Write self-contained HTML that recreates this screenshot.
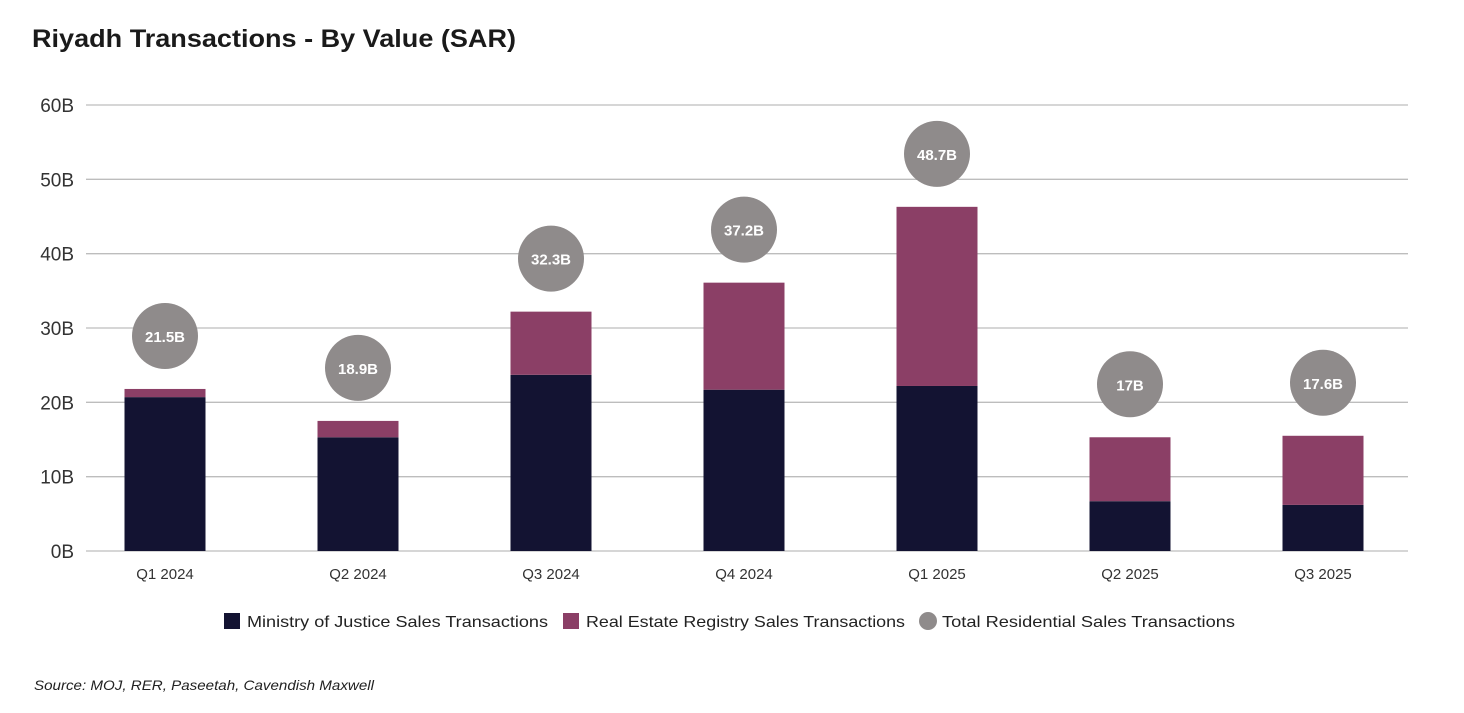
<!DOCTYPE html>
<html><head><meta charset="utf-8"><style>
body{margin:0;background:#fff;width:1464px;height:708px;overflow:hidden;font-family:"Liberation Sans",sans-serif}
</style></head><body>
<svg width="1464" height="708" xmlns="http://www.w3.org/2000/svg">
<text x="32" y="47" font-size="25" font-weight="bold" fill="#1a1a1a" textLength="484" lengthAdjust="spacingAndGlyphs">Riyadh Transactions - By Value (SAR)</text>
<g id="grid"></g><g id="bars"></g><g id="bubbles"></g>
<g font-size="16" fill="#222">
<rect x="224" y="613" width="16" height="16" fill="#131332"/>
<text x="247" y="627" textLength="301" lengthAdjust="spacingAndGlyphs">Ministry of Justice Sales Transactions</text>
<rect x="563" y="613" width="16" height="16" fill="#8b3f66"/>
<text x="586" y="627" textLength="319" lengthAdjust="spacingAndGlyphs">Real Estate Registry Sales Transactions</text>
<circle cx="928" cy="621" r="9" fill="#8f8b8b"/>
<text x="942" y="627" textLength="293" lengthAdjust="spacingAndGlyphs">Total Residential Sales Transactions</text>
</g>
<text x="34" y="690" font-size="14" font-style="italic" fill="#222" textLength="340" lengthAdjust="spacingAndGlyphs">Source: MOJ, RER, Paseetah, Cavendish Maxwell</text>
</svg>
<script>
const categories=["Q1 2024","Q2 2024","Q3 2024","Q4 2024","Q1 2025","Q2 2025","Q3 2025"];
const mojValues=[20.7,15.3,23.7,21.7,22.2,6.7,6.2];
const rerValues=[1.1,2.2,8.5,14.4,24.1,8.6,9.3];
const totalLabels=["21.5B","18.9B","32.3B","37.2B","48.7B","17B","17.6B"];
const yTicks=[0,10,20,30,40,50,60];
const NS="http://www.w3.org/2000/svg";
const y0=551,yTop=105,maxV=60;
const y=v=>y0-(y0-yTop)*v/maxV;
const band=193,left=68.5,bw=81;
const xc=i=>left+band*(i+0.5);
function mk(tag,attrs,parent,txt){const e=document.createElementNS(NS,tag);for(const k in attrs)e.setAttribute(k,attrs[k]);if(txt!==undefined)e.textContent=txt;parent.appendChild(e);return e;}
const grid=document.getElementById('grid'),bars=document.getElementById('bars'),bub=document.getElementById('bubbles');
yTicks.forEach(t=>{
 const l=mk('line',{x1:86,x2:1408,y1:y(t),y2:y(t),stroke:'#bdbdbd','stroke-width':1.3},grid);
 
 
 const tx=mk('text',{x:74,y:y(t)+7,'text-anchor':'end','font-size':19,fill:'#333'},grid,t+'B');
 
 
});
categories.forEach((c,i)=>{
 const m=mojValues[i],r=rerValues[i];
 const b1=mk('rect',{x:xc(i)-bw/2,y:y(m),width:bw,height:y0-y(m),fill:'#131332'},bars);
 
 
 const b2=mk('rect',{x:xc(i)-bw/2,y:y(m+r),width:bw,height:y(m)-y(m+r),fill:'#8b3f66'},bars);
 
 
 const xl=mk('text',{x:xc(i),y:579,'text-anchor':'middle','font-size':15,fill:'#333'},bars,c);
 
 
 const cy=y(m+r)-53;
 const ci=mk('circle',{cx:xc(i),cy:cy,r:33,fill:'#8f8b8b'},bub);
 
 
 const lt=mk('text',{x:xc(i),y:cy+6,'text-anchor':'middle','font-size':15,'font-weight':'bold',fill:'#fff'},bub,totalLabels[i]);
 
 
});
</script>
</body></html>
